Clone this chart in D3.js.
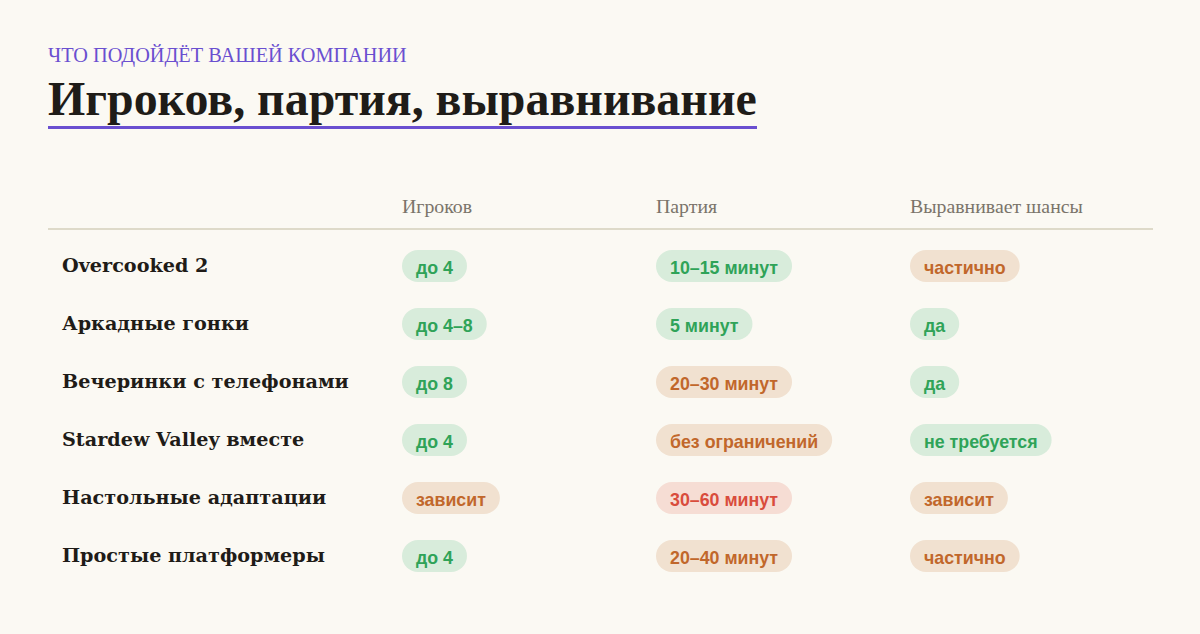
<!DOCTYPE html>
<html>
<head>
<meta charset="utf-8">
<script src="https://cdn.jsdelivr.net/npm/d3@7"></script>
<style>
  body { margin: 0; background: #fbf9f3; }
</style>
</head>
<body>
<div id="chart"></div>
<script>
const width = 1200
const height = 634

const kicker = "ЧТО ПОДОЙДЁТ ВАШЕЙ КОМПАНИИ"
const title = "Игроков, партия, выравнивание"
const columns = ["Игроков", "Партия", "Выравнивает шансы"]
const games = ["Overcooked 2", "Аркадные гонки", "Вечеринки с телефонами", "Stardew Valley вместе", "Настольные адаптации", "Простые платформеры"]
const players = ["до 4", "до 4–8", "до 8", "до 4", "зависит", "до 4"]
const playersTone = ["good", "good", "good", "good", "mid", "good"]
const session = ["10–15 минут", "5 минут", "20–30 минут", "без ограничений", "30–60 минут", "20–40 минут"]
const sessionTone = ["good", "good", "mid", "mid", "bad", "mid"]
const balance = ["частично", "да", "да", "не требуется", "зависит", "частично"]
const balanceTone = ["mid", "good", "good", "good", "mid", "mid"]

const tones = {
    good: { bg: "#d8ecdb", fg: "#2fa358" },
    mid: { bg: "#f1e1d0", fg: "#c1672b" },
    bad: { bg: "#f6ddd4", fg: "#d94c3c" }
}

const serif = "DejaVu Serif, serif"

// size a text so it spans a target width (reference font is wider than the local ones)
function fit(sel, base, target) {
    sel.attr("font-size", base)
    const w = sel.node().getComputedTextLength()
    sel.attr("font-size", base * target / w)
    return base * target / w
}

const svg = d3.select("div#chart").append("svg").attr("width", width).attr("height", height)
svg.append("rect").attr("width", width).attr("height", height).attr("fill", "#fbf9f3")

const kick = svg.append("text").text(kicker)
    .attr("x", 48).attr("y", 62)
    .attr("font-family", "Liberation Serif, serif")
    .attr("fill", "#6a4fd0")
fit(kick, 19, 359)

const titleText = svg.append("text").text(title)
    .attr("x", 48).attr("y", 115)
    .attr("font-family", "Liberation Serif, serif").attr("font-weight", 700)
    .attr("fill", "#1f1c18")
fit(titleText, 44, 709)
svg.append("rect").attr("x", 48).attr("y", 126).attr("width", 709).attr("height", 3).attr("fill", "#6a4fd0")

// layout scales
const x = d3.scaleOrdinal().domain(columns).range([402, 656, 910])
const y = d3.scaleBand().domain(games).range([237, 585]).padding(0)

const header = svg.append("g")
const headText = header.selectAll("text").data(columns).enter().append("text")
    .text(d => d)
    .attr("x", d => x(d)).attr("y", 213)
    .attr("font-family", "Liberation Serif, serif")
    .attr("fill", "#7a746a")
const hs = fit(headText.filter((d, i) => i === 2), 17, 173)
headText.attr("font-size", hs)

svg.append("line").attr("x1", 48).attr("x2", 1153).attr("y1", 229).attr("y2", 229)
    .attr("stroke", "#dedac9").attr("stroke-width", 2)

const rows = svg.append("g").selectAll("g").data(games).enter().append("g")
    .attr("transform", d => `translate(0, ${y(d) + y.bandwidth() / 2})`)

const rowText = rows.append("text").text(d => d)
    .attr("x", 62).attr("y", 6)
    .attr("font-family", serif).attr("font-weight", 700)
    .attr("fill", "#1f1c18")
const rs = fit(rowText.filter((d, i) => i === 2), 18, 287)
rowText.attr("font-size", rs)

const cells = [
    { col: columns[0], vals: players, tone: playersTone },
    { col: columns[1], vals: session, tone: sessionTone },
    { col: columns[2], vals: balance, tone: balanceTone }
]

cells.forEach(c => {
    rows.each(function(d, i) {
        const g = d3.select(this).append("g").attr("transform", `translate(${x(c.col)}, 0)`)
        const t = tones[c.tone[i]]
        const pill = g.append("rect").attr("y", -16).attr("height", 32).attr("rx", 16).attr("fill", t.bg)
        const label = g.append("text").text(c.vals[i])
            .attr("x", 14).attr("y", 2).attr("dy", "0.36em")
            .attr("font-family", "Liberation Sans, Arial, sans-serif").attr("font-weight", 700).attr("font-size", 17.8)
            .attr("fill", t.fg)
        pill.attr("width", label.node().getComputedTextLength() + 28)
    })
})
</script>
</body>
</html>
